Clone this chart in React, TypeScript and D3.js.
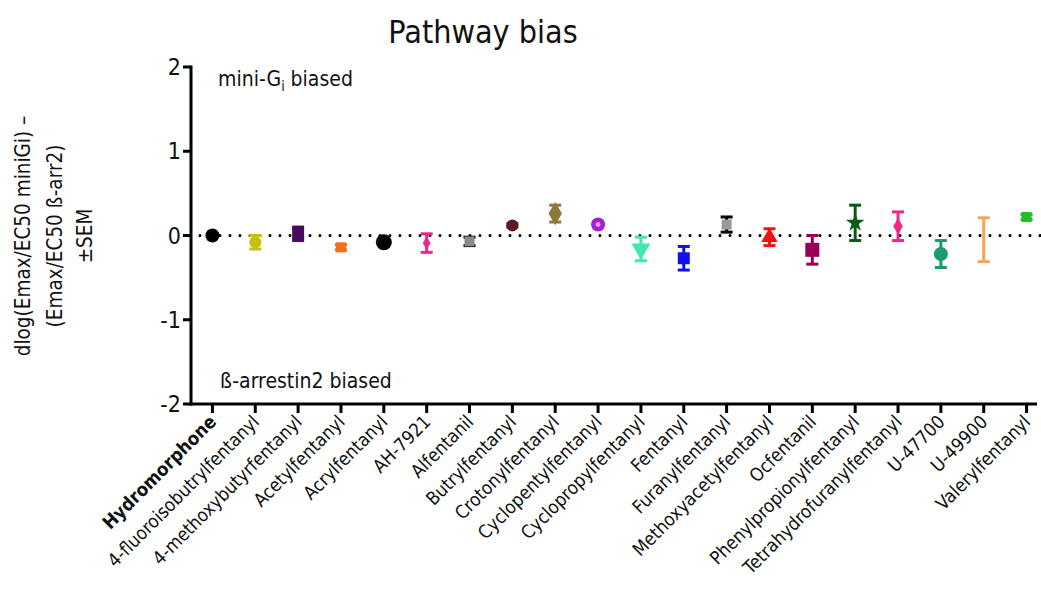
import React from "react";
import * as d3 from "d3";

const categories = [
  "Hydromorphone",
  "4-fluoroisobutrylfentanyl",
  "4-methoxybutyrfentanyl",
  "Acetylfentanyl",
  "Acrylfentanyl",
  "AH-7921",
  "Alfentanil",
  "Butrylfentanyl",
  "Crotonylfentanyl",
  "Cyclopentylfentanyl",
  "Cyclopropylfentanyl",
  "Fentanyl",
  "Furanylfentanyl",
  "Methoxyacetylfentanyl",
  "Ocfentanil",
  "Phenylpropionylfentanyl",
  "Tetrahydrofuranylfentanyl",
  "U-47700",
  "U-49900",
  "Valerylfentanyl",
];

const biasValues = [0.0, -0.08, 0.02, -0.14, -0.08, -0.09, -0.07, 0.12, 0.26, 0.13, -0.16, -0.27, 0.13, -0.02, -0.17, 0.15, 0.11, -0.22, -0.05, 0.22];
const semValues = [0.0, 0.08, 0.08, 0.03, 0.0, 0.11, 0.05, 0.02, 0.1, 0.03, 0.14, 0.14, 0.09, 0.1, 0.17, 0.21, 0.17, 0.16, 0.26, 0.03];

const yTicks = [-2, -1, 0, 1, 2];

const pointColors = ["#000000", "#c2c214", "#4a0a5e", "#ff6a1a", "#000000", "#e8288a", "#8a8a8a", "#5a1a22", "#8b7a3c", "#a020e0", "#40e8b0", "#1010f0", "#999999", "#ff1010", "#990055", "#0a5a14", "#f0288c", "#1a9a6e", "#f5a55a", "#22c022"];
const capColors = ["#000000", "#c2c214", "#4a0a5e", "#ff6a1a", "#000000", "#e8288a", "#000000", "#5a1a22", "#8b7a3c", "#a020e0", "#40e8b0", "#1010f0", "#000000", "#ff1010", "#990055", "#0a5a14", "#f0288c", "#1a9a6e", "#f5a55a", "#22c022"];
const pointShapes = ["circle", "hexagon", "square", "square", "circle", "diamond", "square", "circle", "diamond", "ring", "triangleDown", "square", "square", "triangleUp", "square", "star", "diamond", "circle", "none", "square"];
const pointSizes = [7, 6, 6, 5, 8, 4, 5, 6, 7, 7, 8, 6, 5, 7, 7, 6, 5, 7, 3, 5];

const FONT = "'DejaVu Sans Condensed', 'Liberation Sans Narrow', 'Open Sans', sans-serif";

const W = 1041;
const H = 592;
const axisX = 191;
const axisEnd = 1037;

const x = d3.scalePoint<string>().domain(categories).range([axisX, 1048]).padding(0.5);
const y = d3.scaleLinear().domain([-2, 2]).range([404, 67]);

function Marker({ shape, cx, cy, r, color }: { shape: string; cx: number; cy: number; r: number; color: string }) {
  if (shape === "none") return null;
  if (shape === "circle") return <circle cx={cx} cy={cy} r={r} fill={color} />;
  if (shape === "ring")
    return (
      <g>
        <circle cx={cx} cy={cy} r={r} fill={color} />
        <circle cx={cx} cy={cy} r={r * 0.35} fill="#ff9ad0" />
      </g>
    );
  let sym: d3.SymbolType = d3.symbolSquare;
  let rot = 0;
  let area = (2 * r) * (2 * r);
  if (shape === "diamond") { sym = d3.symbolDiamond; area = 2 * r * r * 1.6; }
  if (shape === "triangleUp") { sym = d3.symbolTriangle; area = r * r * 2.4; }
  if (shape === "triangleDown") { sym = d3.symbolTriangle; area = r * r * 2.4; rot = 180; }
  if (shape === "star") { sym = d3.symbolStar; area = r * r * 3; }
  if (shape === "hexagon") { sym = d3.symbolCircle; area = Math.PI * r * r; }
  const p = d3.symbol().type(sym).size(area)() || "";
  return <path d={p} transform={`translate(${cx},${cy}) rotate(${rot})`} fill={color} />;
}

export default function App() {
  const y0 = y(0);
  return (
    <svg width={W} height={H} style={{ display: "block", position: "absolute", left: 0, top: 0, background: "#fff" }} fontFamily={FONT}>
      <rect width={W} height={H} fill="#fff" />
      {/* title */}
      <text x={483} y={43} textAnchor="middle" fontSize={32} fill="#111">Pathway bias</text>

      {/* y axis title */}
      <g transform="translate(0,236) rotate(-90)" fontSize={20.5} fill="#111" textAnchor="middle">
        <text x={0} y={30}>dlog(Emax/EC50 miniGi) –</text>
        <text x={0} y={62}>(Emax/EC50 ß-arr2)</text>
        <text x={0} y={92}>±SEM</text>
      </g>

      {/* zero dotted line */}
      <line x1={axisX + 9} x2={W} y1={y0} y2={y0} stroke="#000" strokeWidth={3} strokeLinecap="round" strokeDasharray="0 10" />

      {/* y axis */}
      <line x1={axisX} x2={axisX} y1={y(2) - 1.5} y2={y(-2) + 1.5} stroke="#000" strokeWidth={3} />
      {yTicks.map((t) => (
        <g key={t}>
          <line x1={axisX - 8} x2={axisX} y1={y(t)} y2={y(t)} stroke="#000" strokeWidth={3} />
          <text x={axisX - 10} y={y(t) + 8} textAnchor="end" fontSize={23} fill="#111">{t}</text>
        </g>
      ))}

      {/* x axis */}
      <line x1={axisX - 1.5} x2={axisEnd} y1={y(-2)} y2={y(-2)} stroke="#000" strokeWidth={3} />
      {categories.map((c, i) => (
        <g key={c}>
          <line x1={x(c)!} x2={x(c)!} y1={y(-2)} y2={y(-2) + 9} stroke="#000" strokeWidth={3} />
          <text
            transform={`translate(${x(c)! + 5},${y(-2) + 19}) rotate(-45)`}
            textAnchor="end"
            fontSize={18.5}
            fontWeight={i === 0 ? "bold" : "normal"}
            fill="#111"
          >
            {c}
          </text>
        </g>
      ))}

      {/* annotations */}
      <text x={218} y={86} fontSize={21} fill="#111">
        mini-G<tspan fontSize={14} dy={5} fill="#111">i</tspan><tspan dy={-5}> biased</tspan>
      </text>
      <text x={220} y={388} fontSize={21} fill="#111">ß-arrestin2 biased</text>

      {/* points */}
      {categories.map((c, i) => {
        const cx = x(c)!;
        const v = biasValues[i];
        const s = semValues[i];
        const cy = y(v);
        const top = y(v + s);
        const bot = y(v - s);
        return (
          <g key={"p" + c}>
            {s > 0 && (
              <g stroke={capColors[i]} strokeWidth={3}>
                <line x1={cx} x2={cx} y1={top} y2={bot} />
                <line x1={cx - 6} x2={cx + 6} y1={top} y2={top} />
                <line x1={cx - 6} x2={cx + 6} y1={bot} y2={bot} />
              </g>
            )}
            <Marker shape={pointShapes[i]} cx={cx} cy={cy} r={pointSizes[i]} color={pointColors[i]} />
          </g>
        );
      })}
    </svg>
  );
}
